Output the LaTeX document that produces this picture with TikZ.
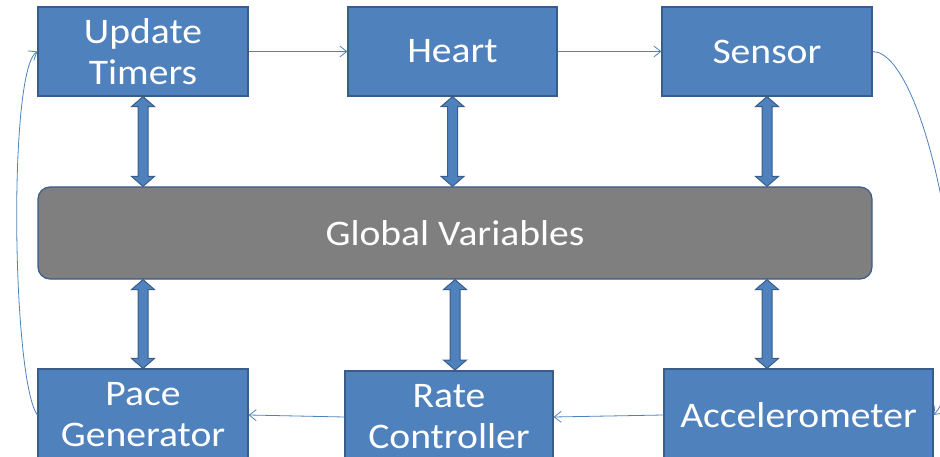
\documentclass[tikz,border=0pt]{standalone}
\usepackage{fontspec}
\setmainfont[FakeStretch=1.1]{Carlito}
\usetikzlibrary{calc,arrows.meta}
\definecolor{boxblue}{HTML}{4F81BD}
\definecolor{boxborder}{HTML}{385D8A}
\definecolor{gvgray}{HTML}{7F7F7F}
\tikzset{
  blk/.style={draw=boxborder, fill=boxblue, line width=1.2pt, text=white, inner sep=0pt,
    align=center, font=\fontsize{36}{41}\selectfont},
  gvbox/.style={draw=boxborder, fill=gvgray, line width=1.2pt, text=white, rounded corners=12pt,
    inner sep=0pt, font=\fontsize{36}{41}\selectfont},
  flow/.style={draw=boxblue, line width=0.8pt, -{Straight Barb[length=7pt,width=11pt,line width=0.8pt]}},
  dbl/.style={fill=boxblue, draw=boxborder, line width=1pt}
}
\newcommand\vbiarrow[2]{%
  \draw[dbl] let \p1=(#1), \p2=(#2) in
    (\x1,\y1) -- (\x1+11.5pt,\y1-10pt) -- (\x1+5pt,\y1-10pt) -- (\x1+5pt,\y2+10pt)
    -- (\x1+11.5pt,\y2+10pt) -- (\x1,\y2) -- (\x1-11.5pt,\y2+10pt) -- (\x1-5pt,\y2+10pt)
    -- (\x1-5pt,\y1-10pt) -- (\x1-11.5pt,\y1-10pt) -- cycle;}
\begin{document}
\begin{tikzpicture}[x=1pt,y=-1pt]
\useasboundingbox (0,0) rectangle (940,457);
\clip (0,0) rectangle (940,457);
\node[blk, minimum width=210, minimum height=89] (ut) at (143,51.5) {Update\\Timers};
\node[blk, minimum width=209, minimum height=89] (heart) at (452.5,51.5) {Heart};
\node[blk, minimum width=210, minimum height=89] (sensor) at (767,51.5) {Sensor};
\node[gvbox, minimum width=834, minimum height=92] (gv) at (455,233) {Global Variables};
\node[blk, minimum width=210, minimum height=92] (pg) at (143,415) {Pace\\Generator};
\node[blk, minimum width=208, minimum height=92] (rc) at (449,417) {Rate\\Controller};
\node[blk, minimum width=269, minimum height=92] (acc) at (798.5,415) {Accelerometer};
\coordinate (rcx) at (455,370);
\draw[flow] (ut.east) -- (heart.west);
\draw[flow] (heart.west -| heart.east) -- (sensor.west);
\draw[flow] (sensor.east) .. controls (930,52) and (985,360) .. (acc.east);
\draw[flow] (acc.west) -- (rc.east);
\draw[flow] (rc.west) -- (pg.east);
\draw[flow] (pg.west) .. controls (12,380) and (8,70) .. (ut.west);
\vbiarrow{ut.south}{ut.south |- gv.north}
\vbiarrow{heart.south}{heart.south |- gv.north}
\vbiarrow{sensor.south}{sensor.south |- gv.north}
\vbiarrow{pg.north |- gv.south}{pg.north}
\vbiarrow{rcx |- gv.south}{rcx}
\vbiarrow{sensor.south |- gv.south}{sensor.south |- acc.north}
\end{tikzpicture}
\end{document}
